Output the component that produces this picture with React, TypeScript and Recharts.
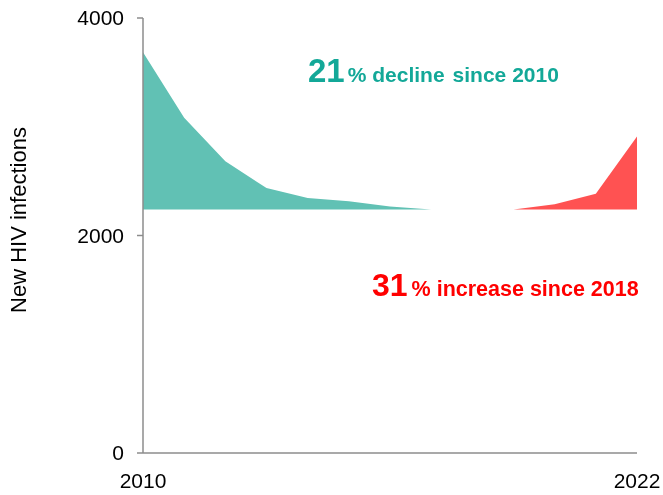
import { ComposedChart, Area, XAxis, YAxis } from 'recharts';

const years = [2010, 2011, 2012, 2013, 2014, 2015, 2016, 2017, 2018, 2019, 2020, 2021, 2022];
const infections = [3684, 3083, 2682, 2437, 2345, 2315, 2266, 2240, 2240, 2240, 2287, 2385, 2911];
const baseline = 2240;
const yTicks = [0, 2000, 4000];
const xTicks = [2010, 2022];

const data = years.map((year, i) => ({
  year,
  decline: year <= 2018 ? [baseline, infections[i]] : null,
  increase: year >= 2018 ? [baseline, infections[i]] : null,
}));

const font = '"Liberation Sans", Arial, sans-serif';
const axisColor = '#8c8c8c';

const App = () => {
  // fixed so the body margin doesn't push the chart around
  return (
    <div style={{ position: 'fixed', left: 0, top: 0, width: 663, height: 495, fontFamily: font }}>
      <ComposedChart width={663} height={495} data={data} margin={{ top: 18, right: 26, bottom: 2, left: 83 }}>
        <XAxis
          dataKey="year"
          type="number"
          domain={[2010, 2022]}
          ticks={xTicks}
          tickLine={false}
          tickSize={0}
          tickMargin={20}
          height={40}
          stroke={axisColor}
          strokeWidth={1.5}
          tick={{ fill: '#000', fontSize: 21, fontFamily: font }}
        />
        <YAxis
          domain={[0, 4000]}
          ticks={yTicks}
          width={60}
          tickSize={6}
          tickMargin={13}
          stroke={axisColor}
          strokeWidth={1.5}
          tick={{ fill: '#000', fontSize: 21, fontFamily: font }}
        />
        <Area dataKey="decline" fill="#61c1b4" fillOpacity={1} stroke="none" type="linear" isAnimationActive={false} />
        <Area dataKey="increase" fill="#ff5252" fillOpacity={1} stroke="none" type="linear" isAnimationActive={false} />
      </ComposedChart>
      <svg width={663} height={495} style={{ position: 'absolute', left: 0, top: 0, pointerEvents: 'none' }}>
        <text x={18} y={220} transform="rotate(-90 18 220)" textAnchor="middle" dominantBaseline="central" fontSize={22} fontFamily={font} fill="#000">
          New HIV infections
        </text>
        <text x={308} y={82} fontFamily={font} fontWeight="bold" fill="#13a898">
          <tspan fontSize={33}>21</tspan>
          <tspan fontSize={21} dx={3}>% decline</tspan>
          <tspan fontSize={21} dx={8}>since 2010</tspan>
        </text>
        <text x={372} y={296} fontFamily={font} fontWeight="bold" fill="#ff0000">
          <tspan fontSize={32}>31</tspan>
          <tspan fontSize={21.5} dx={4}>% increase since 2018</tspan>
        </text>
      </svg>
    </div>
  );
};

export default App;
